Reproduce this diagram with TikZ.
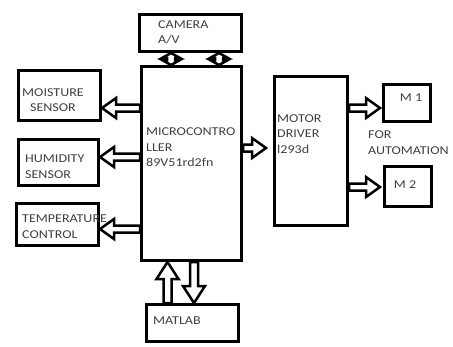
\documentclass[tikz,border=0pt]{standalone}
\usepackage{fontspec}
\setmainfont[FakeStretch=1.17]{Carlito}
\usetikzlibrary{calc}
\def\sw{3.5pt}\def\hw{10pt}\def\hl{14pt}
\newcommand\barR[2]{\draw[barrow] let \p1=(#1),\p2=(#2) in (\x1,\y1+\sw)--(\x2-\hl,\y1+\sw)--(\x2-\hl,\y1+\hw)--(\x2,\y1)--(\x2-\hl,\y1-\hw)--(\x2-\hl,\y1-\sw)--(\x1,\y1-\sw)--cycle;}
\newcommand\barL[2]{\draw[barrow] let \p1=(#1),\p2=(#2) in (\x1,\y1+\sw)--(\x2+\hl,\y1+\sw)--(\x2+\hl,\y1+\hw)--(\x2,\y1)--(\x2+\hl,\y1-\hw)--(\x2+\hl,\y1-\sw)--(\x1,\y1-\sw)--cycle;}
\newcommand\barU[2]{\draw[barrow] let \p1=(#1),\p2=(#2) in (\x1+\sw,\y1)--(\x1+\sw,\y2-\hl)--(\x1+\hw,\y2-\hl)--(\x1,\y2)--(\x1-\hw,\y2-\hl)--(\x1-\sw,\y2-\hl)--(\x1-\sw,\y1)--cycle;}
\newcommand\barD[2]{\draw[barrow] let \p1=(#1),\p2=(#2) in (\x1+\sw,\y1)--(\x1+\sw,\y2+\hl)--(\x1+\hw,\y2+\hl)--(\x1,\y2)--(\x1-\hw,\y2+\hl)--(\x1-\sw,\y2+\hl)--(\x1-\sw,\y1)--cycle;}
\newcommand\barUD[2]{\draw[barrow] let \p1=(#1),\p2=(#2) in (\x1+\sw,\y1+\hl)--(\x1+\hw,\y1+\hl)--(\x1,\y1)--(\x1-\hw,\y1+\hl)--(\x1-\sw,\y1+\hl)--(\x1-\sw,\y2-\hl)--(\x1-\hw,\y2-\hl)--(\x1,\y2)--(\x1+\hw,\y2-\hl)--(\x1+\sw,\y2-\hl)--cycle;}
\tikzset{
  box/.style={draw=black, line width=3pt, inner sep=0pt, fill=white},
  barrow/.style={draw=black, line width=2.5pt, fill=white, line join=miter},
  lbl/.style={text=black!75, font={\fontsize{12}{15.5}\selectfont}, inner sep=0pt, anchor=west, align=left},
  clbl/.style={text=black!75, font={\fontsize{12}{15.5}\selectfont}, inner sep=0pt, align=center}
}
\begin{document}
\begin{tikzpicture}[x=1pt,y=-1pt]
\useasboundingbox[fill=white] (0,0) rectangle (453,346);
% boxes
\node[box, minimum width=102pt, minimum height=37pt] (cam) at (190.5,33) {};
\node[box, minimum width=100pt, minimum height=194pt] (mcu) at (191.5,163.5) {};
\node[box, minimum width=73pt, minimum height=149pt] (drv) at (311,151) {};
\node[box, minimum width=47pt, minimum height=37pt] (m1) at (407,103) {};
\node[box, minimum width=47pt, minimum height=40pt] (m2) at (408,186.5) {};
\node[box, minimum width=82pt, minimum height=50pt] (moist) at (59.5,95.5) {};
\node[box, minimum width=80pt, minimum height=46pt] (humid) at (58.5,162.5) {};
\node[box, minimum width=82pt, minimum height=42pt] (temp) at (57.5,224.5) {};
\node[box, minimum width=92pt, minimum height=37pt] (mat) at (192.5,323) {};
% labels
\node[lbl] (camt) at (158,32.5) {CAMERA\\A/V};
\node[lbl] (mcut) at (146,147.5) {MICROCONTRO\\LLER\\89V51rd2fn};
\node[lbl] (drvt) at (277,134) {MOTOR\\DRIVER\\l293d};
\node[clbl] (m1t) at (411,98) {M 1};
\node[clbl] (m2t) at (405,185) {M 2};
\node[lbl] (autot) at (368,142.5) {FOR\\AUTOMATION};
\node[clbl] (moistt) at (53,100) {MOISTURE\\SENSOR};
\node[lbl] (humidt) at (25,166.5) {HUMIDITY\\SENSOR};
\node[lbl] (tempt) at (22,226.5) {TEMPERATURE\\CONTROL};
\node[lbl] (matt) at (153,321) {MATLAB};
% connectors
\coordinate (dtip) at ($(drv.west |- 0,148)+(-7,0)$);
\barR{mcu.east |- 0,148}{dtip}
\coordinate (m1tip) at ($(m1.west |- 0,108)+(-2,0)$);
\coordinate (m2tip) at ($(m2.west |- 0,187)+(-3,0)$);
\barR{drv.east |- 0,108}{m1tip}
\barR{drv.east |- 0,187}{m2tip}
\barL{mcu.west |- 0,108}{moist.east |- 0,108}
\barL{mcu.west |- 0,157}{humid.east |- 0,157}
\barL{mcu.west |- 0,229}{temp.east |- 0,229}
{\def\hw{11pt}\def\hl{17pt}\def\sw{4pt}
\barU{mat.north -| 167.5,0}{mcu.south -| 167.5,0}
\barD{mcu.south -| 194,0}{mat.north -| 194,0}}
{\def\hw{9pt}\def\hl{5pt}\def\sw{4pt}
\barUD{mcu.north -| 171,0}{cam.south -| 171,0}
\barUD{mcu.north -| 219,0}{cam.south -| 219,0}}
\end{tikzpicture}
\end{document}
